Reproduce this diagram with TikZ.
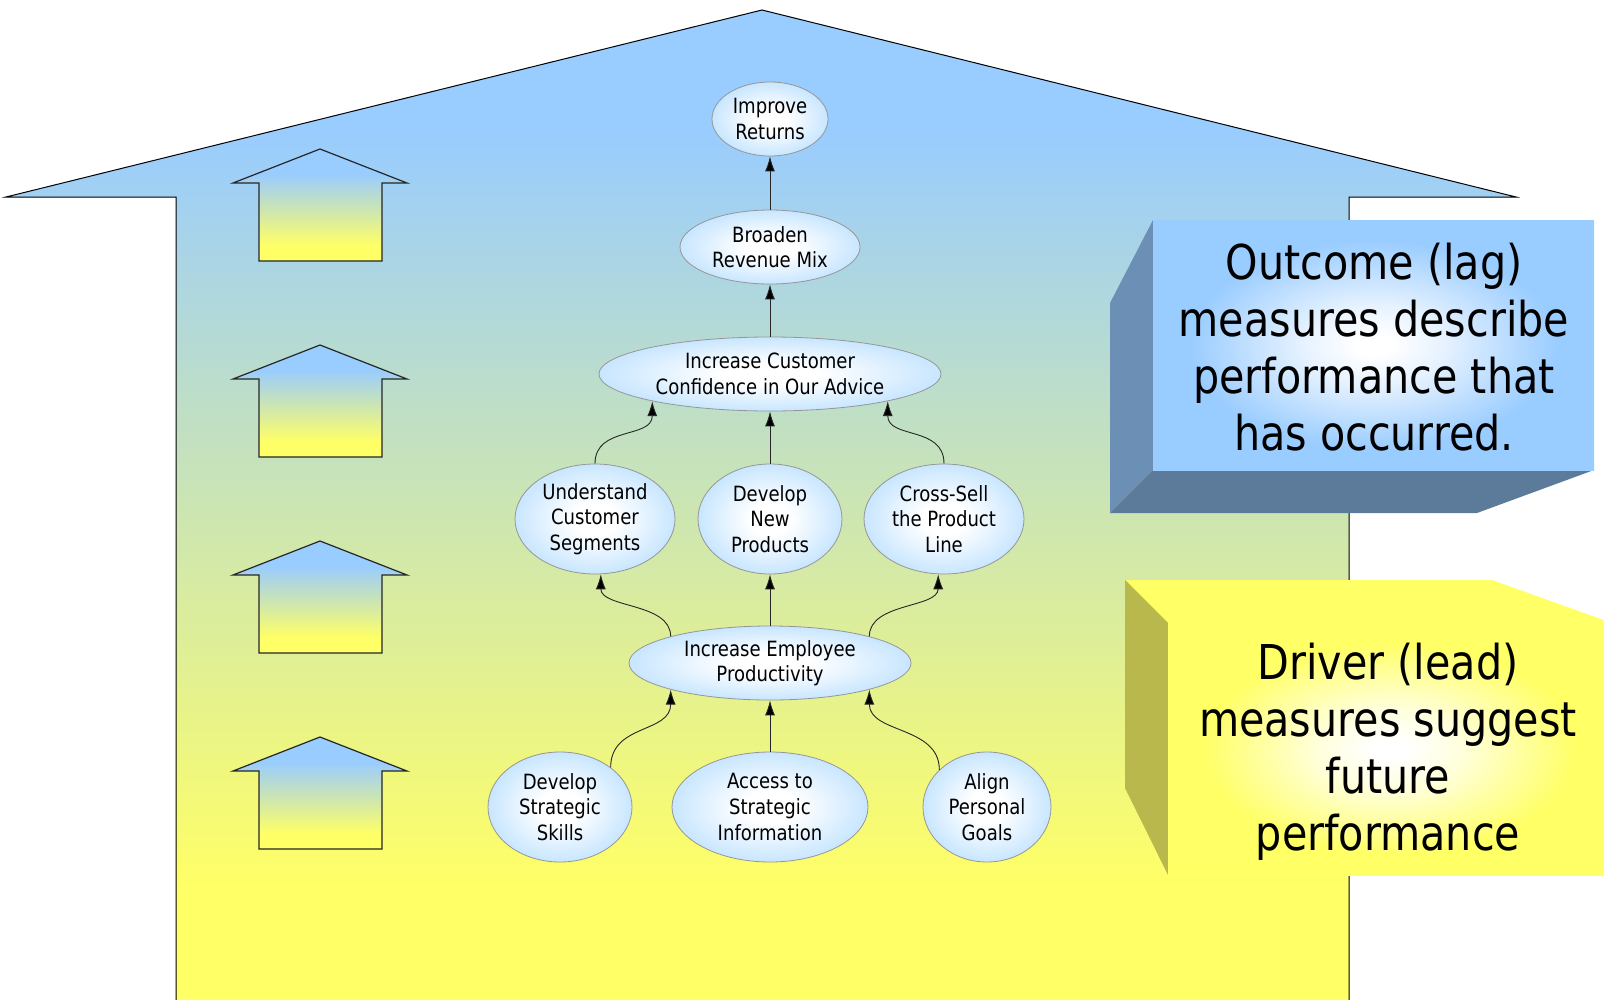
\documentclass[tikz,border=0pt]{standalone}
\usepackage{fontspec}
\setmainfont{DejaVu Sans}[FakeStretch=0.86]
\usetikzlibrary{shapes.geometric,arrows.meta}

\definecolor{houseblue}{RGB}{153,204,255}
\definecolor{hyellow}{RGB}{255,255,102}
\definecolor{ellblue}{RGB}{200,230,255}
\definecolor{ellline}{RGB}{150,150,150}
\definecolor{lagside}{RGB}{107,143,181}
\definecolor{lagbottom}{RGB}{92,122,153}
\definecolor{leadside}{RGB}{184,184,76}
\definecolor{leadtop}{RGB}{255,255,102}
\definecolor{lagglow}{RGB}{230,242,255}
\definecolor{leadglow}{RGB}{255,255,220}

% sky-to-sun fill of the house body
\pgfdeclareverticalshading{housefill}{100bp}{%
  color(0bp)=(hyellow); color(25bp)=(hyellow); color(31bp)=(hyellow);
  color(69bp)=(houseblue); color(75bp)=(houseblue); color(100bp)=(houseblue)}
% fill of the small upward arrows
\pgfdeclareverticalshading{arrowfill}{100bp}{%
  color(0bp)=(hyellow); color(25bp)=(hyellow); color(32bp)=(hyellow);
  color(64bp)=(houseblue); color(75bp)=(houseblue); color(100bp)=(houseblue)}
% objective bubbles
\pgfdeclareradialshading{ellfill}{\pgfpoint{0bp}{0bp}}{%
  color(0bp)=(white); color(7bp)=(white); color(25bp)=(ellblue); color(50bp)=(ellblue)}
% front faces of the two blocks
\pgfdeclareradialshading{lagfront}{\pgfpoint{0bp}{0bp}}{%
  color(0bp)=(white); color(2bp)=(white); color(8bp)=(lagglow);
  color(21bp)=(houseblue); color(50bp)=(houseblue)}
\pgfdeclareradialshading{leadfront}{\pgfpoint{0bp}{0bp}}{%
  color(0bp)=(white); color(2bp)=(white); color(8bp)=(leadglow);
  color(21bp)=(hyellow); color(50bp)=(hyellow)}

\begin{document}
\begin{tikzpicture}[x=1pt,y=-1pt,
  goal/.style={ellipse, draw=ellline, line width=0.8pt, shading=ellfill,
    inner sep=0pt, align=center, font=\fontsize{21}{25.6}\selectfont},
  link/.style={draw=black!85, line width=0.9pt,
    -{Latex[length=15pt,width=10pt,fill=black]}},
  uparrow/.style={draw=black!85, line width=1.2pt, shading=arrowfill},
  note/.style={align=center, inner sep=0pt, font=\fontsize{48}{57}\selectfont}]
\useasboundingbox (0,0) rectangle (1604,999);

% house
\shade[shading=housefill, draw=black, line width=1pt]
  (6,197) -- (762,10) -- (1516,197) -- (1349,197) -- (1349,1006)
  -- (176,1006) -- (176,197) -- cycle;

% small upward arrows
\foreach \t in {149,345,541,737}
  \draw[uparrow] (320,\t) -- (407,{\t+34}) -- (382,{\t+34}) -- (382,{\t+112})
    -- (259,{\t+112}) -- (259,{\t+34}) -- (233,{\t+34}) -- cycle;

% objectives
\node[goal, minimum width=116pt, minimum height=74pt] (ret) at (770,119) {Improve\\Returns};
\node[goal, minimum width=180pt, minimum height=74pt] (mix) at (770,247) {Broaden\\Revenue Mix};
\node[goal, minimum width=342pt, minimum height=74pt] (conf) at (770,374) {Increase Customer\\Confidence in Our Advice};
\node[goal, minimum width=160pt, minimum height=110pt] (seg) at (595,519) {Understand\\Customer\\Segments};
\node[goal, minimum width=144pt, minimum height=110pt] (newp) at (770,519) {Develop\\New\\Products};
\node[goal, minimum width=160pt, minimum height=110pt] (xsell) at (944,519) {Cross-Sell\\the Product\\Line};
\node[goal, minimum width=282pt, minimum height=74pt] (emp) at (770,663) {Increase Employee\\Productivity};
\node[goal, minimum width=144pt, minimum height=110pt] (skills) at (560,807) {Develop\\Strategic\\Skills};
\node[goal, minimum width=196pt, minimum height=110pt] (info) at (770,807) {Access to\\Strategic\\Information};
\node[goal, minimum width=128pt, minimum height=110pt] (goals) at (987,807) {Align\\Personal\\Goals};

% cause-and-effect links
\draw[link] (mix.north) -- (ret.south);
\draw[link] (conf.north) -- (mix.south);
\draw[link] (newp.north) -- (conf.south);
\draw[link] (emp.north) -- (newp.south);
\draw[link] (info.north) -- (emp.south);
\draw[link] (seg.north) .. controls +(0,-38) and +(0,38) .. (conf.193);
\draw[link] (xsell.north) .. controls +(0,-38) and +(0,38) .. (conf.347);
\draw[link] (emp.165) .. controls +(0,-34) and +(0,34) .. (seg.-84);
\draw[link] (emp.15) .. controls +(0,-34) and +(0,34) .. (xsell.-96);
\draw[link] (skills.38) .. controls +(0,-44) and +(0,44) .. (emp.195);
\draw[link] (goals.142) .. controls +(0,-44) and +(0,44) .. (emp.345);

% outcome block
\fill[lagside] (1153,220) -- (1110,303) -- (1110,513) -- (1153,470) -- cycle;
\fill[lagbottom] (1110,513) -- (1153,470) -- (1594,470) -- (1477,513) -- cycle;
\shade[shading=lagfront] (1153,220) rectangle (1594,470);
\node[note] (lag) at (1374,347) {Outcome (lag)\\measures describe\\performance that\\has occurred.};

% driver block
\fill[leadtop] (1125,580) -- (1492,580) -- (1612,623) -- (1168,623) -- cycle;
\fill[leadside] (1125,580) -- (1168,623) -- (1168,875) -- (1125,788) -- cycle;
\shade[shading=leadfront] (1168,623) rectangle (1612,875);
\node[note] (lead) at (1388,752) {Driver (lead)\\measures suggest\\future\\performance};
\end{tikzpicture}
\end{document}
